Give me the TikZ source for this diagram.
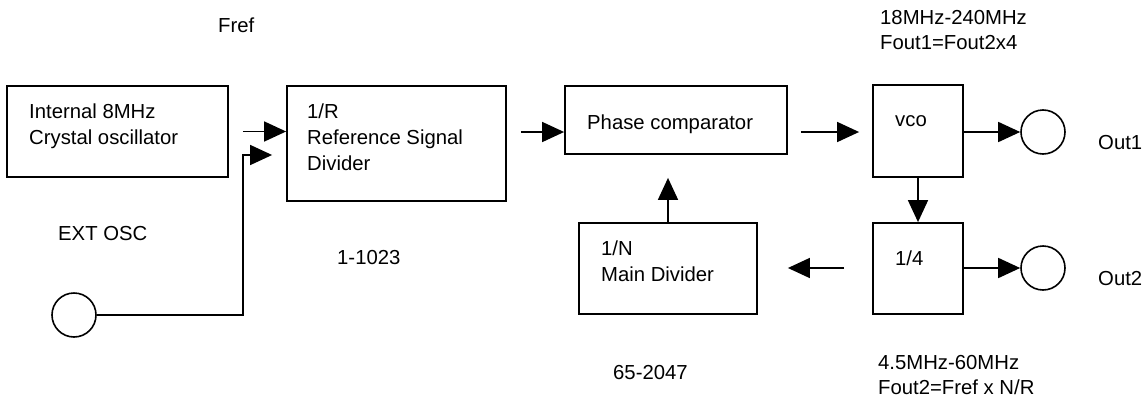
\documentclass[tikz,border=0pt]{standalone}
\usepackage{fontspec}
\setmainfont{Liberation Sans}
\usetikzlibrary{arrows.meta}
\begin{document}
\begin{tikzpicture}[x=1pt,y=-1pt,
  blk/.style={draw,line width=1.8pt,inner sep=0pt},
  port/.style={draw,line width=1.6pt,circle,minimum size=44pt,inner sep=0pt},
  arr/.style={line width=1.6pt,-{Triangle[length=22pt,width=20pt]}},
  lbl/.style={anchor=base west,inner sep=0pt,font=\fontsize{20.3}{26}\selectfont}]
\useasboundingbox (0,0) rectangle (1146,399);
% boxes
\node[blk,minimum width=221pt,minimum height=91pt] (int) at (117.5,131.5) {};
\node[blk,minimum width=219pt,minimum height=115pt] (ref) at (396.5,143.5) {};
\node[blk,minimum width=222pt,minimum height=68pt] (pc) at (676,120) {};
\node[blk,minimum width=90pt,minimum height=92pt] (vco) at (918,131) {};
\node[blk,minimum width=90pt,minimum height=91pt] (div4) at (918,268.5) {};
\node[blk,minimum width=178pt,minimum height=91pt] (mn) at (668,268.5) {};
% ports
\node[port] (ext) at (74,315) {};
\node[port] (out1) at (1043,132) {};
\node[port] (out2) at (1043,268) {};
% labels
\node[lbl] (t1) at (29,118) {Internal 8MHz};
\node[lbl] (t2) at (29,144) {Crystal oscillator};
\node[lbl] (t3) at (307,118) {1/R};
\node[lbl] (t4) at (307,144) {Reference Signal};
\node[lbl] (t5) at (307,170.5) {Divider};
\node[lbl] (t6) at (587,129) {Phase comparator};
\node[lbl] (t7) at (895,126) {vco};
\node[lbl] (t8) at (895,265) {1/4};
\node[lbl] (t9) at (601,255) {1/N};
\node[lbl] (t10) at (601,281) {Main Divider};
\node[lbl] (t11) at (218,32) {Fref};
\node[lbl] (t12) at (58,240) {EXT OSC};
\node[lbl] (t13) at (337,264) {1-1023};
\node[lbl] (t14) at (613,379) {65-2047};
\node[lbl] (t15) at (880,24) {18MHz-240MHz};
\node[lbl] (t16) at (880,49) {Fout1=Fout2x4};
\node[lbl] (t17) at (1098,149) {Out1};
\node[lbl] (t18) at (1098,285) {Out2};
\node[lbl] (t19) at (878,369) {4.5MHz-60MHz};
\node[lbl] (t20) at (878,394) {Fout2=Fref x N/R};
% connectors
\coordinate (j) at (243,155);
\draw[arr,shorten <=14pt] (int.east) -- (ref.west |- int.east);
\draw[arr,shorten >=14pt] (ext.east) -| (j) -- (ref.west |- j);
\draw[arr,shorten <=14pt] (ref.east |- 0,132) -- (pc.west |- 0,132);
\draw[arr,shorten <=13pt,shorten >=13pt] (pc.east |- 0,132) -- (vco.west |- 0,132);
\draw[arr] (vco.east |- out1) -- (out1.west);
\draw[arr] (vco.south) -- (div4.north);
\draw[arr] (div4.east |- out2) -- (out2.west);
\draw[arr,shorten <=28pt,shorten >=30pt] (div4.west |- 0,268) -- (mn.east |- 0,268);
\draw[arr,shorten >=23pt] (mn.north) -- (mn.north |- pc.south);
\end{tikzpicture}
\end{document}
